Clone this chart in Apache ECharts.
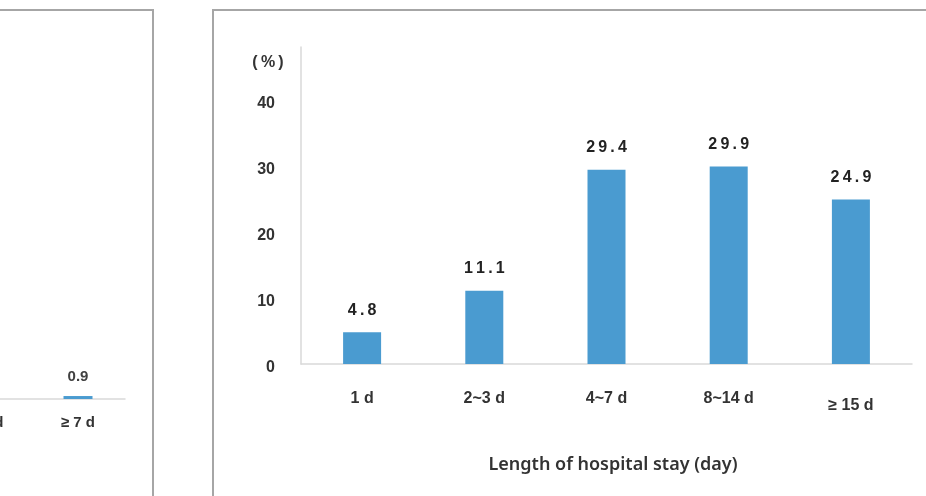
<!DOCTYPE html>
<html>
<head>
<meta charset="utf-8">
<title>Length of hospital stay</title>
<script src="https://cdn.jsdelivr.net/npm/echarts@6/dist/echarts.min.js"></script>
<style>
  html, body { margin: 0; padding: 0; background: #fff; }
  #main { width: 926px; height: 496px; }
</style>
</head>
<body>
<div id="main"></div>
<script>
// right panel: length of hospital stay
const stayCategories = ['1 d', '2~3 d', '4~7 d', '8~14 d', '≥ 15 d'];
const stayValues = [4.8, 11.1, 29.4, 29.9, 24.9];
const yTicks = [0, 10, 20, 30, 40];

// left panel (cut off), only the last category is visible
const leftCategories = ['4~6 d', '≥ 7 d'];
const leftValues = [null, 0.9];

const barColor = '#4a9bd0';
const textColor = '#333333';
const axisColor = '#d9d9d9';
const numFont = 'Liberation Sans, Arial, sans-serif';

const myChart = echarts.init(document.getElementById('main'));

// spread the digits a little like in the original labels
const spaced = (v) => String(v).split('').join('\u2009');

let option = {
  animation: false,
  grid: [
    { left: 301, right: 14, top: 47, bottom: 132, outerBoundsMode: 'none' },
    // left chart is cut by the picture edge
    { left: -63, right: 801, top: 69, bottom: 97, outerBoundsMode: 'none' }
  ],
  xAxis: [{
    gridIndex: 0,
    type: 'category',
    data: stayCategories,
    axisLine: { lineStyle: { color: axisColor, width: 1.5 } },
    axisTick: { show: false },
    axisLabel: {
      margin: 27,
      color: textColor,
      fontFamily: numFont,
      fontWeight: 'bold',
      fontSize: 16,
      formatter: function (v, i) {
        return i === stayCategories.length - 1 ? '{low|' + v + '}' : v;
      },
      rich: {
        low: { padding: [7, 0, 0, 0], color: textColor, fontFamily: numFont, fontWeight: 'bold', fontSize: 16 }
      }
    },
    name: 'Length of hospital stay (day)',
    nameLocation: 'middle',
    nameGap: 92,
    nameTextStyle: {
      color: textColor,
      fontFamily: 'Noto Sans, sans-serif',
      fontWeight: 600,
      fontSize: 18,
      padding: [0, 0, 0, 13]
    }
  }, {
    gridIndex: 1,
    type: 'category',
    data: leftCategories,
    axisLine: { lineStyle: { color: axisColor, width: 1.5 } },
    axisTick: { show: false },
    axisLabel: {
      margin: 16,
      color: textColor,
      fontFamily: numFont,
      fontWeight: 'bold',
      fontSize: 15
    }
  }],
  yAxis: [{
    gridIndex: 0,
    type: 'value',
    min: 0,
    max: 48,
    interval: 10,
    axisLine: { show: true, lineStyle: { color: axisColor, width: 1.5 } },
    axisTick: { show: false },
    splitLine: { show: false },
    axisLabel: {
      margin: 26,
      showMaxLabel: false,
      formatter: function (v) {
        return yTicks.indexOf(v) >= 0 ? '{t|' + v + '}' : '';
      },
      rich: {
        // nudge the tick labels down a bit
        t: { padding: [7, 0, 0, 0], color: textColor, fontFamily: numFont, fontWeight: 'bold', fontSize: 16 }
      }
    }
  }, {
    gridIndex: 1,
    type: 'value',
    min: 0,
    max: 100,
    show: false
  }],
  series: [{
    type: 'bar',
    xAxisIndex: 0,
    yAxisIndex: 0,
    data: stayValues,
    barWidth: 38,
    itemStyle: { color: barColor },
    label: {
      show: true,
      position: 'top',
      distance: 14,
      color: '#222',
      fontFamily: numFont,
      fontWeight: 'bold',
      fontSize: 16,
      formatter: (p) => spaced(p.value)
    }
  }, {
    type: 'bar',
    xAxisIndex: 1,
    yAxisIndex: 1,
    data: leftValues,
    barWidth: 29,
    itemStyle: { color: barColor },
    label: {
      show: true,
      position: 'top',
      distance: 12,
      color: '#404040',
      fontFamily: numFont,
      fontWeight: 'bold',
      fontSize: 15
    }
  }],
  graphic: [
    // panel frames
    {
      type: 'rect',
      shape: { x: -10, y: 10, width: 163, height: 500 },
      style: { fill: 'none', stroke: '#a6a6a6', lineWidth: 2 }
    },
    {
      type: 'rect',
      shape: { x: 213, y: 10, width: 800, height: 500 },
      style: { fill: 'none', stroke: '#a6a6a6', lineWidth: 2 }
    },
    {
      type: 'text',
      x: 268,
      y: 63,
      style: {
        text: '(\u2009%\u2009)',
        fill: textColor,
        font: 'bold 16px Liberation Sans, Arial, sans-serif',
        align: 'center',
        verticalAlign: 'middle'
      }
    }
  ]
};
myChart.setOption(option);
</script>
</body>
</html>
